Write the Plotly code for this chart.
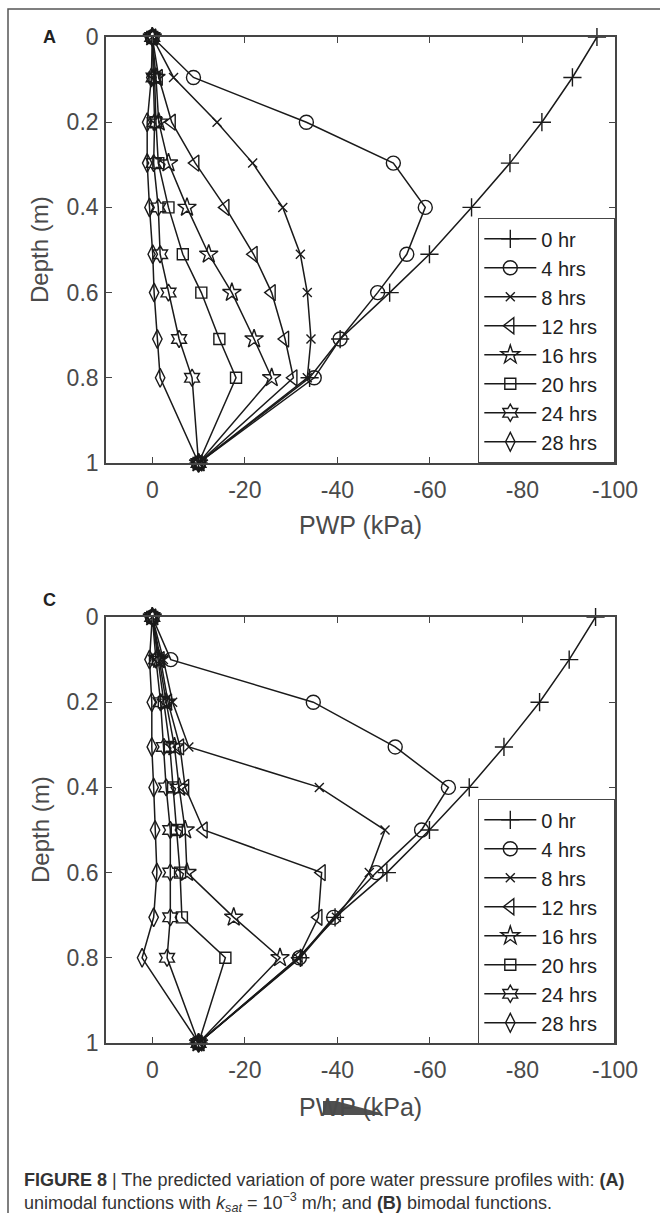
import plotly.graph_objects as go

# ---------------- data ----------------
labels = ["0 hr", "4 hrs", "8 hrs", "12 hrs", "16 hrs", "20 hrs", "24 hrs", "28 hrs"]

depth_a = [0, 0.095, 0.2, 0.296, 0.4, 0.51, 0.6, 0.709, 0.8, 1.0]
depth_c = [0, 0.1, 0.2, 0.305, 0.4, 0.5, 0.6, 0.705, 0.8, 1.0]

# Panel A (unimodal) PWP in kPa
pwp_a_0 = [-96.1, -90.8, -84.2, -77.3, -69.0, -59.9, -51.3, -40.6, -34.0, -10]
pwp_a_4 = [0, -8.9, -33.3, -52.1, -59.0, -55.0, -48.7, -40.6, -35.0, -10]
pwp_a_8 = [0, -4.6, -14.0, -21.7, -28.2, -32.0, -33.5, -34.3, -33.5, -10]
pwp_a_12 = [0, -1.4, -4.2, -9.3, -15.8, -21.9, -25.8, -28.7, -30.5, -10]
pwp_a_16 = [0, -0.8, -1.4, -3.5, -7.5, -12.2, -17.2, -22.0, -25.8, -10]
pwp_a_20 = [0, -0.5, -0.8, -1.3, -3.5, -6.6, -10.6, -14.5, -18.1, -10]
pwp_a_24 = [0, -0.3, -0.5, -0.3, -1.3, -1.7, -3.5, -5.8, -8.6, -10]
pwp_a_28 = [0, 0.2, 1.1, 1.1, 0.6, -0.1, -0.4, -1.1, -1.7, -10]

# Panel C (bimodal) PWP in kPa
pwp_c_0 = [-95.8, -90.1, -83.7, -76.0, -68.5, -59.9, -50.7, -39.5, -32.0, -10]
pwp_c_4 = [0, -4.0, -34.8, -52.5, -64.0, -58.2, -48.4, -39.2, -31.8, -10]
pwp_c_8 = [0, -2.4, -4.4, -7.9, -36.1, -50.3, -46.9, -39.8, -31.5, -10]
pwp_c_12 = [0, -1.8, -3.4, -6.0, -7.1, -11.1, -36.6, -35.9, -31.6, -10]
pwp_c_16 = [0, -1.5, -3.0, -4.8, -5.8, -7.1, -7.5, -17.6, -27.6, -10]
pwp_c_20 = [0, -1.2, -2.5, -3.8, -4.5, -5.3, -6.0, -6.4, -15.8, -10]
pwp_c_24 = [0, -0.8, -1.8, -2.5, -3.0, -3.9, -3.9, -3.9, -3.2, -10]
pwp_c_28 = [0, 0.6, 0.1, 0.1, -0.3, -0.6, -1.0, -0.3, 2.2, -10]

series_a = [pwp_a_0, pwp_a_4, pwp_a_8, pwp_a_12, pwp_a_16, pwp_a_20, pwp_a_24, pwp_a_28]
series_c = [pwp_c_0, pwp_c_4, pwp_c_8, pwp_c_12, pwp_c_16, pwp_c_20, pwp_c_24, pwp_c_28]

x_ticks = [0, -20, -40, -60, -80, -100]
y_ticks = [0, 0.2, 0.4, 0.6, 0.8, 1]
y_ticktext = ["0", "0.2", "0.4", "0.6", "0.8", "1"]

# ---------------- styling ----------------
symbols = ["cross-thin-open", "circle-open", "x-thin-open", "triangle-left-open",
           "star-open", "square-open", "hexagram-open", "diamond-tall-open"]
sizes = [13, 14, 9, 14, 14, 11, 13, 13.5]
INK = "#1a1a1a"
AX = "#454545"
FONT = "Liberation Sans, Arial, sans-serif"
PAD = "\u00a0\u00a0"

W, H = 660, 1213
def px(x):
    return x / W
def py(y):
    return 1 - y / H

fig = go.Figure()

for series, depth, xa, ya, leg in [(series_a, depth_a, "x", "y", "legend"),
                                   (series_c, depth_c, "x2", "y2", "legend2")]:
    for i, lab in enumerate(labels):
        fig.add_trace(go.Scatter(
            x=series[i], y=depth, name=lab + PAD, mode="lines+markers",
            xaxis=xa, yaxis=ya, legend=leg,
            line=dict(color=INK, width=1.5),
            marker=dict(symbol=symbols[i], size=sizes[i], color=INK,
                        line=dict(width=1.4, color=INK)),
            cliponaxis=False))

axis_common = dict(showgrid=False, zeroline=False, showline=True, mirror="ticks",
                   linecolor=AX, linewidth=1.6, ticks="inside", ticklen=6,
                   tickwidth=1.4, tickcolor=AX, automargin=False,
                   tickfont=dict(family=FONT, size=23, color="#4a4a4a"))

xa_dom = [px(106), px(615)]
ya_dom = [py(463), py(37)]
yc_dom = [py(1043), py(617)]

legend_common = dict(xanchor="left", yanchor="top", bgcolor="white",
                     bordercolor=AX, borderwidth=1.3, itemwidth=52,
                     font=dict(family=FONT, size=20, color="#222222"),
                     tracegroupgap=0)

fig.update_layout(
    width=W, height=H, margin=dict(l=0, r=0, t=0, b=0, pad=0, autoexpand=False),
    paper_bgcolor="white", plot_bgcolor="white",
    font=dict(family=FONT, color="#333333"),
    xaxis=dict(domain=xa_dom, anchor="y", range=[10, -100], tickvals=x_ticks,
               ticktext=[str(v) for v in x_ticks], ticklabelstandoff=6, **axis_common),
    yaxis=dict(domain=ya_dom, anchor="x", range=[1, 0], tickvals=y_ticks,
               ticktext=y_ticktext, ticklabelstandoff=1, **axis_common),
    xaxis2=dict(domain=xa_dom, anchor="y2", range=[10, -100], tickvals=x_ticks,
                ticktext=[str(v) for v in x_ticks], ticklabelstandoff=6, **axis_common),
    yaxis2=dict(domain=yc_dom, anchor="x2", range=[1, 0], tickvals=y_ticks,
                ticktext=y_ticktext, ticklabelstandoff=1, **axis_common),
    legend=dict(x=px(478), y=py(218), **legend_common),
    legend2=dict(x=px(478), y=py(799), **legend_common),
    showlegend=True,
)

ann = []
for yc in [250, 830]:
    ann.append(dict(x=px(40), y=py(yc), xref="paper", yref="paper", text="Depth (m)",
                    textangle=-90, showarrow=False, xanchor="center", yanchor="middle",
                    font=dict(family=FONT, size=24, color="#4a4a4a")))
for yc in [525, 1107]:
    ann.append(dict(x=px(360), y=py(yc), xref="paper", yref="paper", text="PWP (kPa)",
                    showarrow=False, xanchor="center", yanchor="middle",
                    font=dict(family=FONT, size=25, color="#4a4a4a")))
ann.append(dict(x=px(49), y=py(37), xref="paper", yref="paper", text="<b>A</b>",
                showarrow=False, xanchor="center", yanchor="middle",
                font=dict(family=FONT, size=18, color="#222222")))
ann.append(dict(x=px(49), y=py(600), xref="paper", yref="paper", text="<b>C</b>",
                showarrow=False, xanchor="center", yanchor="middle",
                font=dict(family=FONT, size=18, color="#222222")))
ann.append(dict(x=px(22), y=py(1180), xref="paper", yref="paper",
                text="<b>FIGURE 8</b> | The predicted variation of pore water pressure profiles with: <b>(A)</b>",
                showarrow=False, xanchor="left", yanchor="middle",
                font=dict(family=FONT, size=18, color="#333333")))
ann.append(dict(x=px(22), y=py(1202), xref="paper", yref="paper",
                text="unimodal functions with <i>k</i><sub><i>sat</i></sub> = 10<sup>\u22123</sup> m/h; and <b>(B)</b> bimodal functions.",
                showarrow=False, xanchor="left", yanchor="middle",
                font=dict(family=FONT, size=18, color="#333333")))
fig.update_layout(annotations=ann)

# outer frame of the figure (only top and left edges fall inside the page)
fig.add_shape(type="rect", xref="paper", yref="paper",
              x0=px(8), x1=1.05, y0=-0.05, y1=py(9),
              line=dict(color="#555555", width=1.5), fillcolor="rgba(0,0,0,0)",
              layer="above")
# smudge over the lower axis title (as in the reference scan)
fig.add_shape(type="path", xref="paper", yref="paper",
              path=f"M {px(323)},{py(1101)} L {px(336)},{py(1101)} L {px(381)},{py(1113)} "
                   f"L {px(381)},{py(1115)} L {px(323)},{py(1115)} Z",
              fillcolor="#505050", line=dict(width=0), layer="above")

fig.write_html("out.html", config={"displayModeBar": False},
               post_script="document.body.style.margin='0';document.body.style.overflow='hidden';")
